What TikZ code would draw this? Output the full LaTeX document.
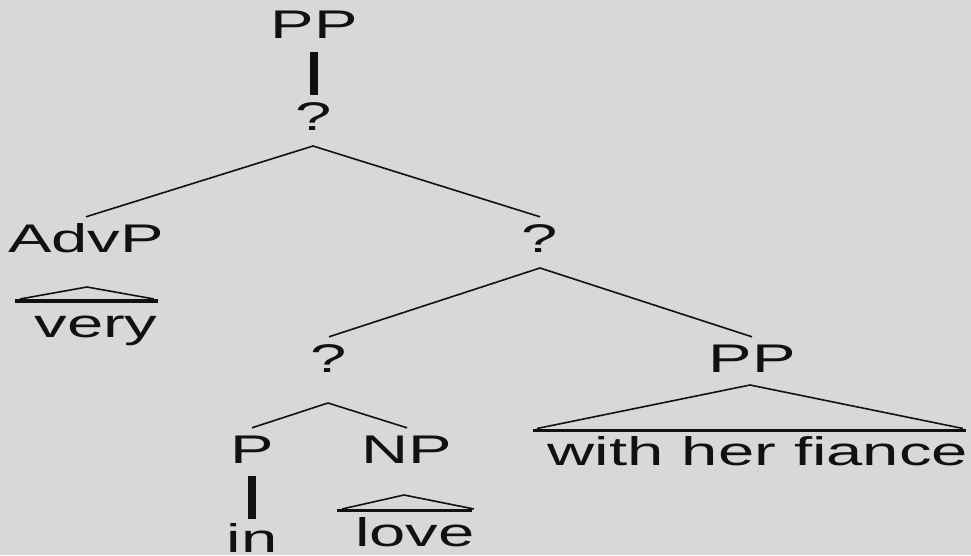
\documentclass[tikz,border=0pt]{standalone}
\usepackage{fontspec}
\setmainfont{Liberation Sans}[FakeStretch=1.63]
\usepackage{tikz}
\definecolor{paper}{RGB}{216,216,216}
\definecolor{ink}{RGB}{17,17,17}

\tikzset{
  cat/.style={anchor=base,inner xsep=0pt,inner ysep=7pt,text height=28pt,text depth=0pt,text=ink,font=\fontsize{40}{48}\selectfont},
  branch/.style={line width=1.6pt,draw=ink,line join=round},
  stem/.style={line width=8pt,draw=ink},
  bar/.style={line width=3pt,draw=ink}
}

\begin{document}
\begin{tikzpicture}[x=1pt,y=-1pt]
\useasboundingbox (0,0) rectangle (971,555);
\fill[paper] (0,0) rectangle (971,555);
\draw (314,38) node[cat](node0) {PP};
\draw (314,130) node[cat](node1) {?};
\draw (86,252) node[cat](node2) {AdvP};
\draw (540,252) node[cat](node3) {?};
\draw (96,337) node[cat](node4) {very};
\draw (329,372) node[cat](node5) {?};
\draw (752,372) node[cat](node6) {PP};
\draw (252,463) node[cat](node7) {P};
\draw (407,463) node[cat](node8) {NP};
\draw (758,465) node[cat](node9) {with her fiance};
\draw (415,546) node[cat](node10) {love};
\draw (252,552) node[cat](node11) {in};
\coordinate (split1) at (313,146);
\coordinate (split3) at (540,268);
\coordinate (split5) at (328,403);
\coordinate (roof2) at (87,287);
\coordinate (roof6) at (750,385);
\coordinate (roof8) at (404,495);
\draw[stem,shorten <=7pt] (node0) -- (node1);
\draw[branch] (node2.north) -- (split1) -- (node3.north);
\draw[branch] (node5.north) -- (split3) -- (node6.north);
\draw[branch] (node7.north) -- (split5) -- (node8.north);
\draw[stem,shorten <=6pt,shorten >=-2pt] (node7) -- (node11);
\draw[branch] (20,299) -- (roof2) -- (154,299);
\draw[bar,line width=4.5pt] (15,301) -- (158,301);
\draw[branch] (537,428.5) -- (roof6) -- (963,428.5);
\draw[bar] (533,430) -- (966,430);
\draw[branch] (342,509) -- (roof8) -- (474,509);
\draw[bar] (337,510.5) -- (472,510.5);
\end{tikzpicture}
\end{document}
